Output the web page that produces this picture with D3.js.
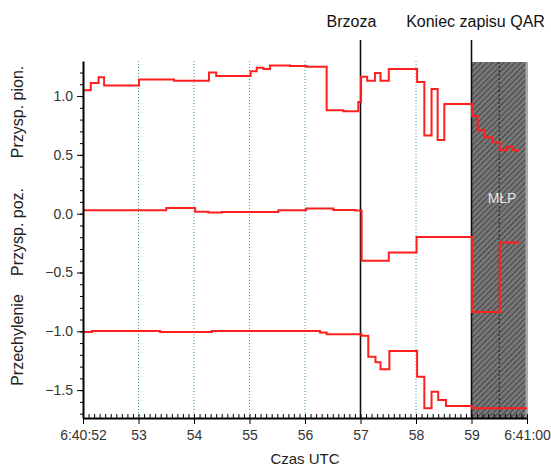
<!DOCTYPE html>
<html>
<head>
<meta charset="utf-8">
<script src="https://cdn.jsdelivr.net/npm/d3@7"></script>
<style>
  body { margin: 0; background: #fff; }
  text { font-family: "Liberation Sans", Arial, sans-serif; }
</style>
</head>
<body>
<svg></svg>
<script>
// seconds after 6:40:00 UTC
let pionT = [52.00, 52.14, 52.28, 52.38, 53.01, 53.64, 54.27, 54.40, 55.02, 55.13, 55.25, 55.37, 55.73, 56.03, 56.39, 56.69, 56.96, 57.01, 57.12, 57.26, 57.36, 57.51, 58.02, 58.15, 58.28, 58.39, 58.51, 59.01, 59.11, 59.24, 59.37, 59.51, 59.63, 59.74, 59.86]
let pionV = [1.05, 1.11, 1.16, 1.09, 1.14, 1.13, 1.20, 1.17, 1.21, 1.24, 1.23, 1.26, 1.255, 1.25, 0.88, 0.87, 0.95, 1.165, 1.13, 1.195, 1.13, 1.23, 1.12, 0.665, 1.06, 0.627, 0.933, 0.83, 0.71, 0.65, 0.607, 0.54, 0.57, 0.54, 0.54]

let pozT = [52.00, 53.50, 54.02, 54.26, 54.50, 55.52, 56.02, 56.51, 56.90, 57.02, 57.51, 58.01, 59.01, 59.51, 59.86]
let pozV = [0.03, 0.048, 0.017, 0.009, 0.015, 0.029, 0.043, 0.031, 0.026, -0.40, -0.33, -0.198, -0.835, -0.245, -0.245]

let przT = [52.00, 52.16, 53.39, 54.32, 56.27, 56.39, 57.02, 57.14, 57.27, 57.36, 57.52, 58.02, 58.15, 58.28, 58.40, 58.54, 59.01, 60.00]
let przV = [-1.006, -0.997, -1.006, -0.997, -1.010, -1.025, -1.037, -1.216, -1.264, -1.323, -1.168, -1.386, -1.655, -1.514, -1.584, -1.635, -1.655, -1.655]

let xTicks = [52, 53, 54, 55, 56, 57, 58, 59, 60]
let xTickLabels = ['6:40:52', '53', '54', '55', '56', '57', '58', '59', '6:41:00']
let yTicks = [-1.5, -1.0, -0.5, 0.0, 0.5, 1.0]
let yTitles = ['Przysp. pion.', 'Przysp. poz.', 'Przechylenie']
let events = [57, 59]
let eventLabels = ['Brzoza', 'Koniec zapisu QAR']
let gridSecs = [53, 54, 55, 56, 58]
let mlpStart = 59
let mlpEnd = 60

let w = 551
let h = 468
let padLeft = 83
let padRight = 527
let padTop = 61
let padBottom = 418

let svg = d3.select('svg').attr('width', w).attr('height', h)

let x = d3.scaleLinear().domain([52, 60]).range([padLeft, padRight])
let y = d3.scaleLinear().domain([-1.737, 1.298]).range([padBottom, padTop])

// hatch pattern for the MŁP area
let defs = svg.append('defs')
let pat = defs.append('pattern')
    .attr('id', 'hatch')
    .attr('patternUnits', 'userSpaceOnUse')
    .attr('width', 4)
    .attr('height', 4)
    .attr('patternTransform', 'rotate(45)')
pat.append('rect').attr('width', 4).attr('height', 4).attr('fill', '#777')
pat.append('line')
    .attr('x1', 0).attr('y1', 0).attr('x2', 0).attr('y2', 4)
    .attr('stroke', '#383838').attr('stroke-width', 1.6)

// grid lines
svg.append('g').selectAll('line')
    .data(gridSecs)
    .enter()
    .append('line')
    .attr('x1', d => x(d)).attr('x2', d => x(d))
    .attr('y1', padTop).attr('y2', padBottom)
    .attr('stroke', '#3f9e9e')
    .attr('stroke-width', 1)
    .attr('stroke-dasharray', '1,2')

// MŁP area
svg.append('rect')
    .attr('x', x(mlpStart))
    .attr('y', padTop + 1)
    .attr('width', x(mlpEnd) - x(mlpStart))
    .attr('height', padBottom - padTop - 1)
    .attr('fill', 'url(#hatch)')
svg.append('rect')
    .attr('x', x(mlpEnd) - 1.5)
    .attr('y', padTop + 1)
    .attr('width', 2.5)
    .attr('height', padBottom - padTop - 1)
    .attr('fill', '#a8a8a8')
svg.append('line')
    .attr('x1', x(59.5)).attr('x2', x(59.5))
    .attr('y1', padTop + 1).attr('y2', padBottom)
    .attr('stroke', '#222')
    .attr('stroke-width', 1)
    .attr('stroke-dasharray', '2,2')
svg.append('text')
    .attr('x', x(59.55))
    .attr('y', 203)
    .attr('text-anchor', 'middle')
    .attr('font-size', '14px')
    .attr('fill', '#e4e4e4')
    .text('MŁP')

// event lines
svg.append('g').selectAll('line')
    .data(events)
    .enter()
    .append('line')
    .attr('x1', d => x(d)).attr('x2', d => x(d))
    .attr('y1', 40).attr('y2', padBottom)
    .attr('stroke', '#111')
    .attr('stroke-width', 1.6)

svg.append('g').selectAll('text')
    .data(eventLabels)
    .enter()
    .append('text')
    .attr('x', (d, i) => i == 0 ? x(events[i]) - 9 : x(events[i]) + 4)
    .attr('y', 27)
    .attr('text-anchor', 'middle')
    .attr('font-size', '16px')
    .attr('fill', '#111')
    .text(d => d)

// series
let line = d3.line()
    .x(d => x(d[0]))
    .y(d => y(d[1]))
    .curve(d3.curveStepAfter)

let series = [d3.zip(pionT, pionV), d3.zip(pozT, pozV), d3.zip(przT, przV)]
svg.append('g').selectAll('path')
    .data(series)
    .enter()
    .append('path')
    .attr('d', d => line(d))
    .attr('fill', 'none')
    .attr('stroke', '#ff1f1f')
    .attr('stroke-width', 2)

// y axis
let yMinor = d3.range(-17, 13).map(d => d / 10)
svg.append('g')
    .attr('transform', 'translate(' + padLeft + ',0)')
    .call(d3.axisLeft(y).tickValues(yMinor).tickSize(3).tickFormat(''))
    .call(g => g.select('.domain').remove())
svg.append('g')
    .attr('id', 'y-axis')
    .attr('transform', 'translate(' + padLeft + ',0)')
    .call(d3.axisLeft(y).tickValues(yTicks).tickSize(6).tickSizeOuter(0).tickPadding(4)
        .tickFormat(d3.format('.1f')))
    .call(g => g.selectAll('text').attr('font-size', '14px').attr('fill', '#333')
        .attr('font-family', '"Liberation Sans", Arial, sans-serif'))
    .call(g => g.select('.domain').attr('stroke-width', 2))

// x axis
let xMinor = d3.range(520, 601).filter(d => d % 10 != 0).map(d => d / 10)
svg.append('g')
    .attr('transform', 'translate(0,' + padBottom + ')')
    .call(d3.axisTop(x).tickValues(xMinor).tickSize(4).tickFormat(''))
    .call(g => g.select('.domain').remove())
svg.append('g')
    .attr('id', 'x-axis')
    .attr('transform', 'translate(0,' + padBottom + ')')
    .call(d3.axisBottom(x).tickValues(xTicks).tickSize(6).tickSizeOuter(0).tickPadding(6)
        .tickFormat((d, i) => xTickLabels[i]))
    .call(g => g.selectAll('.tick line').attr('y1', -4))
    .call(g => g.selectAll('text').attr('font-size', '14px').attr('fill', '#333')
        .attr('font-family', '"Liberation Sans", Arial, sans-serif'))
    .call(g => g.select('.domain').attr('stroke-width', 2))

// axis titles
let titleY = [112, 232, 340]
svg.append('g').selectAll('text')
    .data(yTitles)
    .enter()
    .append('text')
    .attr('transform', (d, i) => 'translate(23,' + titleY[i] + ') rotate(-90)')
    .attr('text-anchor', 'middle')
    .attr('font-size', '16px')
    .attr('fill', '#222')
    .text(d => d)

svg.append('text')
    .attr('x', 305)
    .attr('y', 464)
    .attr('text-anchor', 'middle')
    .attr('font-size', '15px')
    .attr('fill', '#222')
    .text('Czas UTC')
</script>
</body>
</html>
